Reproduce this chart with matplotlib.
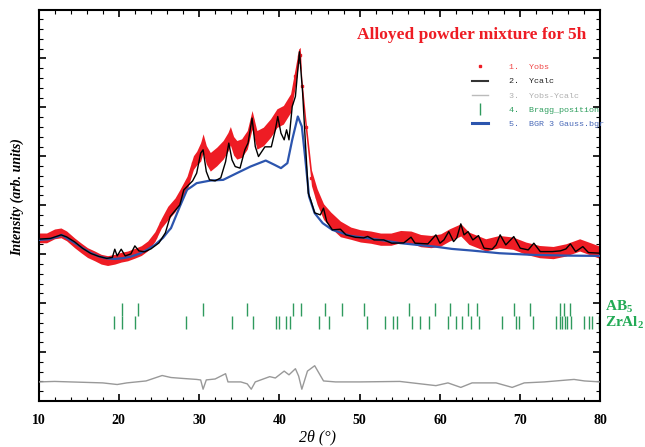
import numpy as np
import matplotlib
matplotlib.use("Agg")
import matplotlib.pyplot as plt
from matplotlib.ticker import MultipleLocator
from matplotlib.lines import Line2D

plt.rcParams['mathtext.fontset'] = 'custom'
plt.rcParams['mathtext.bf'] = 'Liberation Serif:bold'
plt.rcParams['mathtext.rm'] = 'Liberation Serif'

# observed pattern (band centre and half width of the scatter)
yobs_x = [10, 11, 12, 12.8, 13.5, 14.5, 15.3, 16.1, 17, 17.8, 18.6, 19.5, 20.3, 21.1, 22, 22.8,
          23.6, 24.5, 25.3, 26.1, 27, 27.6, 28.5, 29.3, 29.7, 30.2, 30.5, 30.9, 31.4, 32.2,
          33, 33.6, 33.9, 34.3, 34.7, 35.3, 36, 36.6, 37.2, 38, 38.9, 39.7, 40.5, 41.4,
          42, 42.4, 42.6, 42.8, 43.3, 44, 44.7, 45.5, 46.4, 47.6, 48.9, 50.1, 51.4, 52.6,
          53.9, 55.1, 56.4, 57.6, 58.9, 60.1, 61.2, 62.6, 63.6, 65.7, 67.4, 69.1, 70.7,
          72.4, 74.1, 75.7, 77.4, 79.1, 80]
yobs = [1333, 1333, 1415, 1436, 1374, 1231, 1129, 1033, 965, 898, 869, 898, 939, 965, 1020, 1074,
        1170, 1360, 1634, 1838, 2008, 2178, 2452, 2873, 2963, 3092, 3270, 3031, 2888, 2996,
        3133, 3297, 3419, 3215, 3133, 3168, 3337, 3746, 3337, 3405, 3577, 3781, 3849, 4088,
        4632, 5041, 5076, 4427, 3609, 2560, 2178, 1871, 1701, 1517, 1429, 1374, 1348, 1307,
        1307, 1360, 1348, 1278, 1258, 1292, 1395, 1497, 1327, 1190, 1258, 1225, 1123,
        1053, 1033, 1088, 1190, 1088, 1033]
yobs_spread = [100, 100, 100, 100, 100, 100, 100, 100, 100, 100, 100, 100, 100, 100, 100, 100,
               100, 100, 100, 140, 140, 140, 140, 140, 140, 190, 190, 190, 190, 190,
               190, 190, 190, 190, 190, 190, 190, 190, 190, 190, 190, 190, 190, 190,
               190, 150, 150, 150, 150, 160, 160, 160, 160, 160, 125, 125, 125, 125,
               125, 125, 125, 125, 125, 125, 125, 125, 125, 125, 125, 125, 125,
               125, 125, 125, 125, 125, 125]

# calculated pattern
ycalc_x = [10, 11.5, 12.8, 13.5, 14.5, 15.5, 16.5, 17.5, 18.5, 19.2, 19.5, 19.8, 20.3, 20.8,
           21.5, 22, 22.5, 23.2, 24, 25, 25.8, 26.4, 27.6, 28.1, 28.5, 29.2, 29.7, 30.2,
           30.5, 30.9, 31.3, 32, 32.7, 33.3, 33.7, 34.1, 34.5, 35.1, 35.7, 36.1, 36.6, 37,
           37.4, 38.2, 39, 39.5, 39.8, 40.2, 40.6, 40.9, 41.2, 41.6, 42, 42.5, 42.9, 43.2,
           43.6, 43.9, 44.4, 45.1, 45.5, 45.9, 46.6, 47.6, 48.3, 49.5, 50.5, 51, 51.8, 53,
           54, 55.5, 56.4, 56.9, 58.5, 59.5, 60, 60.5, 61.1, 61.7, 62.1, 62.6, 63, 63.5,
           64.1, 64.8, 65.5, 66.5, 67, 67.5, 68.2, 69.2, 70, 71, 71.7, 72.5, 74, 75, 75.7,
           76.25, 76.9, 77.8, 78.5, 80]
ycalc = [1307, 1323, 1395, 1354, 1252, 1119, 1016, 955, 914, 934, 1102, 965, 1102, 965,
         1006, 1170, 1068, 1047, 1108, 1231, 1436, 1769, 2008, 2315, 2382, 2499, 2656, 3065,
         3133, 2689, 2519, 2499, 2560, 2888, 3270, 2928, 2791, 2759, 3133, 3270, 3781, 3200,
         2996, 3194, 3194, 3542, 3814, 3474, 3337, 3542, 3337, 4018, 4223, 5137, 4292, 3405,
         2247, 2110, 1845, 1804, 1941, 1667, 1497, 1511, 1395, 1344, 1333, 1364, 1292, 1292,
         1225, 1231, 1348, 1225, 1211, 1395, 1225, 1292, 1462, 1258, 1333, 1620, 1395, 1462,
         1292, 1380, 1123, 1102, 1190, 1395, 1190, 1360, 1123, 1088, 1225, 1053, 1053, 1068, 1108,
         1211, 1053, 1155, 1033, 1020]

# background
bgr_x = [10, 11.3, 12.3, 12.9, 13.5, 14.5, 15.5, 16.5, 17.5, 18.5, 19.5, 20.5, 21.5, 22.5,
         23.5, 24.5, 25.5, 26.2, 26.5, 27.6, 28.5, 29.1, 29.7, 31.4, 33, 34.7, 36.4, 38.3,
         39.4, 40.2, 41, 41.6, 42.3, 42.8, 43.2, 43.7, 44.4, 45.4, 46.6, 48.9, 51, 53.1,
         55.1, 57.2, 59.4, 61.5, 64, 67.4, 71.6, 76, 80]
bgr = [1292, 1307, 1354, 1395, 1333, 1231, 1123, 1027, 955, 914, 904, 918, 951, 1006,
       1088, 1190, 1333, 1477, 1532, 1973, 2315, 2382, 2452, 2505, 2519, 2656, 2791, 2914,
       2826, 2759, 2861, 3337, 3814, 3609, 2996, 2178, 1838, 1634, 1497, 1374, 1327, 1278,
       1225, 1190, 1155, 1108, 1074, 1020, 986, 971, 965]

# difference curve
diff_x = [10, 12, 14, 16, 18, 19.8, 21, 23.4, 25.4, 26.5, 27.9, 29.7, 30.2, 30.5, 30.9, 32,
          33.3, 33.6, 35.2, 36, 36.5, 37, 38.8, 39.5, 40.6, 41.2, 42, 42.4, 42.8, 43.5,
          44.4, 45.5, 47, 50, 55, 59.5, 61, 62.6, 64, 67, 69, 70.5, 73, 76.7, 78, 80]
diff = [0, 10, 0, -10, -20, -53, -20, 20, 131, 90, 72, 51, 40, -149, 41, 60,
        168, 0, 0, -40, -149, 0, 108, 80, 221, 145, 270, 120, -149, 221,
        331, 20, 0, 0, 10, -76, -20, -112, -20, -20, -112, -20, 0, 51, 20, 0]
diff_offset = -1610

# Bragg positions (2theta)
ab5_pos = [20.46, 22.41, 30.54, 35.96, 41.71, 42.71, 45.66, 47.84, 50.54, 56.16, 59.38,
           61.25, 63.54, 64.63, 69.21, 71.16, 75.0, 75.41, 76.25, 79.9]
zral2_pos = [19.41, 20.38, 22.0, 28.34, 34.09, 36.66, 39.59, 39.95, 40.85, 41.38, 44.88,
             46.13, 50.88, 53.13, 54.21, 54.63, 56.46, 57.54, 58.63, 60.96, 62.06, 62.69,
             63.88, 64.91, 67.69, 69.5, 69.91, 71.65, 74.5, 74.98, 75.25, 75.54, 75.88,
             76.38, 77.94, 78.56, 79.0, 79.81]

RED = '#ee1c24'
BLUE = '#2c55ae'
GREEN = '#2f9a5e'
GRAY = '#999999'

fig = plt.figure(figsize=(6.45, 4.47), dpi=100)
ax = fig.add_axes([0.0597, 0.1029, 0.8713, 0.8758])

yo = np.array(yobs)
sp = np.array(yobs_spread)
ax.fill_between(yobs_x, yo - sp, yo + sp, color=RED, lw=0, zorder=2)
ax.plot(yobs_x, yo, 's', color=RED, ms=2, zorder=2)
ax.plot(bgr_x, bgr, color=BLUE, lw=1.6, zorder=3)
ax.plot(ycalc_x, ycalc, color='black', lw=1.0, zorder=4)
ax.plot(diff_x, np.array(diff) + diff_offset, color=GRAY, lw=1.0, zorder=3)

ax.vlines(ab5_pos, -262, 4, color=GREEN, lw=1)
ax.vlines(zral2_pos, -538, -272, color=GREEN, lw=1)

ax.set_xlim(10, 80)
ax.set_ylim(-2000, 6000)
ax.set_xticks(np.arange(10, 81, 10))
ax.xaxis.set_minor_locator(MultipleLocator(2))
ax.set_yticks(np.arange(-2000, 6001, 1000))
ax.yaxis.set_minor_locator(MultipleLocator(200))
ax.set_yticklabels([])
ax.tick_params(which='both', direction='in', top=True, right=True)
ax.tick_params(which='major', length=5, width=1.2)
ax.tick_params(which='minor', length=3, width=0.8)
ax.tick_params(axis='x', pad=9)
for lab in ax.get_xticklabels():
    lab.set_fontfamily('Liberation Serif')
    lab.set_fontweight('bold')
    lab.set_fontsize(10)
for s in ax.spines.values():
    s.set_linewidth(1.5)

ax.set_xlabel('2θ (°)', fontfamily='Liberation Serif', fontstyle='italic', fontsize=11.5)
ax.xaxis.set_label_coords(0.497, -0.072)
ax.set_ylabel('Intensity (arb. units)', fontfamily='Liberation Serif', fontstyle='italic',
              fontweight='bold', fontsize=10)
ax.yaxis.set_label_coords(-0.026, 0.52)

ax.text(0.771, 0.934, 'Alloyed powder mixture for 5h', transform=ax.transAxes,
        ha='center', va='center', color=RED, fontfamily='Liberation Serif',
        fontweight='bold', fontsize=12.5)

ax.text(1.008, 0.24, r'$\mathbf{AB_5}$', transform=ax.transAxes, ha='left', va='center',
        color='#22aa55', fontsize=11, clip_on=False)
ax.text(1.008, 0.199, r'$\mathbf{ZrAl_2}$', transform=ax.transAxes, ha='left', va='center',
        color='#22aa55', fontsize=11, clip_on=False)

handles = [Line2D([], [], ls='none', marker='s', ms=2, color=RED),
           Line2D([], [], color='#333333', lw=1.5),
           Line2D([], [], color='#bbbbbb', lw=1),
           Line2D([], [], ls='none', marker='|', ms=8, mew=1, color=GREEN),
           Line2D([], [], color=BLUE, lw=2.2)]
labels = ['1.  Yobs', '2.  Ycalc', '3.  Yobs-Ycalc', '4.  Bragg_position', '5.  BGR 3 Gauss.bgr']
ax.legend(handles, labels, loc='upper left', bbox_to_anchor=(0.771, 0.862),
          frameon=False, borderpad=0, borderaxespad=0, handlelength=1.9,
          handletextpad=2.6, labelspacing=0.75,
          prop={'family': 'Liberation Mono', 'size': 6},
          labelcolor=['#f04848', '#222222', '#b0b0b0', '#2e9e5e', '#4a6ab8'])

fig.savefig('out.png', dpi=100)
